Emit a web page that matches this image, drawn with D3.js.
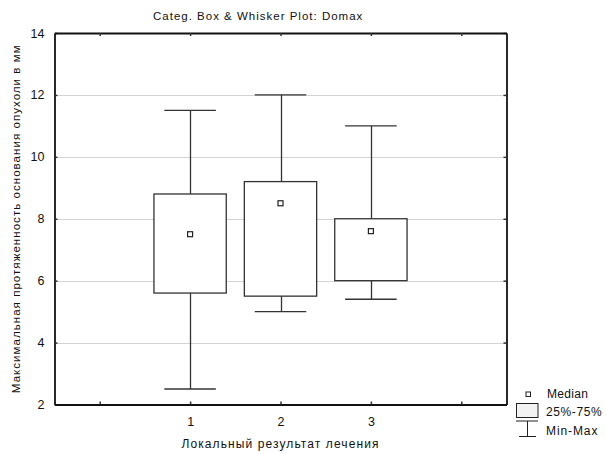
<!DOCTYPE html>
<html>
<head>
<meta charset="utf-8">
<script src="https://cdn.jsdelivr.net/npm/d3@7"></script>
<style>
  body { margin: 0; background: #fff; }
  text { font-family: "Liberation Sans", Arial, sans-serif; fill: #111; }
</style>
</head>
<body>
<div id="chart"></div>
<script>
// data
const categories = [1, 2, 3];
const mins = [2.5, 5.0, 5.4];
const q1s = [5.6, 5.5, 6.0];
const medians = [7.5, 8.5, 7.6];
const q3s = [8.8, 9.2, 8.0];
const maxs = [11.5, 12.0, 11.0];
const yTicks = [2, 4, 6, 8, 10, 12, 14];
const xTicks = [0, 1, 2, 3, 4];

const width = 606, height = 454;
const plotLeft = 54.5, plotRight = 506.5, plotTop = 33, plotBottom = 404.5;

const svg = d3.select("#chart").append("svg")
    .attr("width", width)
    .attr("height", height);

const x = d3.scaleLinear().domain([-0.5, 4.5]).range([plotLeft, plotRight]);
const y = d3.scaleLinear().domain([2, 14]).range([plotBottom, plotTop]);

const rows = categories.map((c, i) => ({
    cat: c, min: mins[i], q1: q1s[i], med: medians[i], q3: q3s[i], max: maxs[i]
}));

// grid lines
svg.append("g").selectAll("line")
    .data(yTicks.filter(t => t > 2 && t < 14))
    .enter().append("line")
    .attr("x1", plotLeft).attr("x2", plotRight)
    .attr("y1", d => Math.round(y(d)) + 0.5)
    .attr("y2", d => Math.round(y(d)) + 0.5)
    .attr("stroke", "#a8a8a8")
    .attr("stroke-dasharray", "1,1");

// boxes
const boxW = 0.8, capW = 0.57;
const g = svg.append("g").selectAll("g").data(rows).enter().append("g");

g.append("line")
    .attr("x1", d => Math.round(x(d.cat)) + 0.5)
    .attr("x2", d => Math.round(x(d.cat)) + 0.5)
    .attr("y1", d => y(d.max))
    .attr("y2", d => y(d.q3))
    .attr("stroke", "#333").attr("stroke-width", 1.3);
g.append("line")
    .attr("x1", d => Math.round(x(d.cat)) + 0.5)
    .attr("x2", d => Math.round(x(d.cat)) + 0.5)
    .attr("y1", d => y(d.q1))
    .attr("y2", d => y(d.min))
    .attr("stroke", "#333").attr("stroke-width", 1.3);
g.append("line")
    .attr("x1", d => x(d.cat - capW / 2))
    .attr("x2", d => x(d.cat + capW / 2))
    .attr("y1", d => y(d.max)).attr("y2", d => y(d.max))
    .attr("stroke", "#333").attr("stroke-width", 1.3);
g.append("line")
    .attr("x1", d => x(d.cat - capW / 2))
    .attr("x2", d => x(d.cat + capW / 2))
    .attr("y1", d => y(d.min)).attr("y2", d => y(d.min))
    .attr("stroke", "#333").attr("stroke-width", 1.3);
g.append("rect")
    .attr("x", d => x(d.cat - boxW / 2))
    .attr("width", x(boxW) - x(0))
    .attr("y", d => y(d.q3))
    .attr("height", d => y(d.q1) - y(d.q3))
    .attr("fill", "#fff")
    .attr("stroke", "#333").attr("stroke-width", 1.3);
g.append("rect")
    .attr("x", d => x(d.cat) - 2.5)
    .attr("y", d => y(d.med) - 2.5)
    .attr("width", 5).attr("height", 5)
    .attr("fill", "#fff")
    .attr("stroke", "#222").attr("stroke-width", 1.2);

// frame and axes
const axL = d3.axisLeft(y).tickValues(yTicks).tickSizeInner(-3).tickSizeOuter(0).tickPadding(10);
const axR = d3.axisRight(y).tickValues(yTicks).tickSizeInner(-3).tickSizeOuter(0).tickFormat("");
const axB = d3.axisBottom(x).tickValues(xTicks).tickSizeInner(-3).tickSizeOuter(0).tickPadding(13)
    .tickFormat(d => categories.includes(d) ? d : "");
const axT = d3.axisTop(x).tickValues(xTicks).tickSizeInner(-3).tickSizeOuter(0).tickFormat("");

function styleAxis(sel) {
    sel.select(".domain").attr("stroke", "#111").attr("stroke-width", 1.8);
    sel.selectAll(".tick line").attr("stroke", "#333").attr("stroke-width", 1.5);
    sel.selectAll("text").attr("font-size", 12.5)
        .attr("font-family", "'Liberation Sans', Arial, sans-serif").attr("fill", "#111");
}
svg.append("g").attr("transform", `translate(${plotLeft},0)`).call(axL).call(styleAxis);
svg.append("g").attr("transform", `translate(${plotRight},0)`).call(axR).call(styleAxis);
svg.append("g").attr("transform", `translate(0,${plotBottom})`).call(axB).call(styleAxis);
svg.append("g").attr("transform", `translate(0,${plotTop})`).call(axT).call(styleAxis);

// titles
svg.append("text")
    .attr("x", 153).attr("y", 20)
    .attr("font-size", 11.5)
    .attr("letter-spacing", 1)
    .text("Categ. Box & Whisker Plot: Domax");

svg.append("text")
    .attr("x", (plotLeft + plotRight) / 2).attr("y", 448)
    .attr("text-anchor", "middle")
    .attr("font-size", 12)
    .attr("letter-spacing", 1.1)
    .text("Локальный результат лечения");

svg.append("text")
    .attr("transform", `translate(20,${(plotTop + plotBottom) / 2}) rotate(-90)`)
    .attr("text-anchor", "middle")
    .attr("font-size", 11.5)
    .attr("letter-spacing", 1.05)
    .text("Максимальная протяженность основания опухоли в мм");

// legend
const lg = svg.append("g");
lg.append("rect").attr("x", 526).attr("y", 392).attr("width", 4.5).attr("height", 4.5)
    .attr("fill", "#fff").attr("stroke", "#222").attr("stroke-width", 1);
lg.append("text").attr("x", 547).attr("y", 398).attr("font-size", 12).attr("letter-spacing", 0.3).text("Median");
lg.append("rect").attr("x", 516.5).attr("y", 403.5).attr("width", 21.5).attr("height", 14)
    .attr("fill", "#f2f2f2").attr("stroke", "#222").attr("stroke-width", 1);
lg.append("text").attr("x", 546).attr("y", 416).attr("font-size", 12).attr("letter-spacing", 0.6).text("25%-75%");
lg.append("line").attr("x1", 516).attr("x2", 538).attr("y1", 421).attr("y2", 421)
    .attr("stroke", "#222");
lg.append("line").attr("x1", 527.5).attr("x2", 527.5).attr("y1", 421).attr("y2", 436)
    .attr("stroke", "#222");
lg.append("line").attr("x1", 519).attr("x2", 536).attr("y1", 436.5).attr("y2", 436.5)
    .attr("stroke", "#222");
lg.append("text").attr("x", 546).attr("y", 435).attr("font-size", 12).attr("letter-spacing", 0.9).text("Min-Max");
</script>
</body>
</html>
